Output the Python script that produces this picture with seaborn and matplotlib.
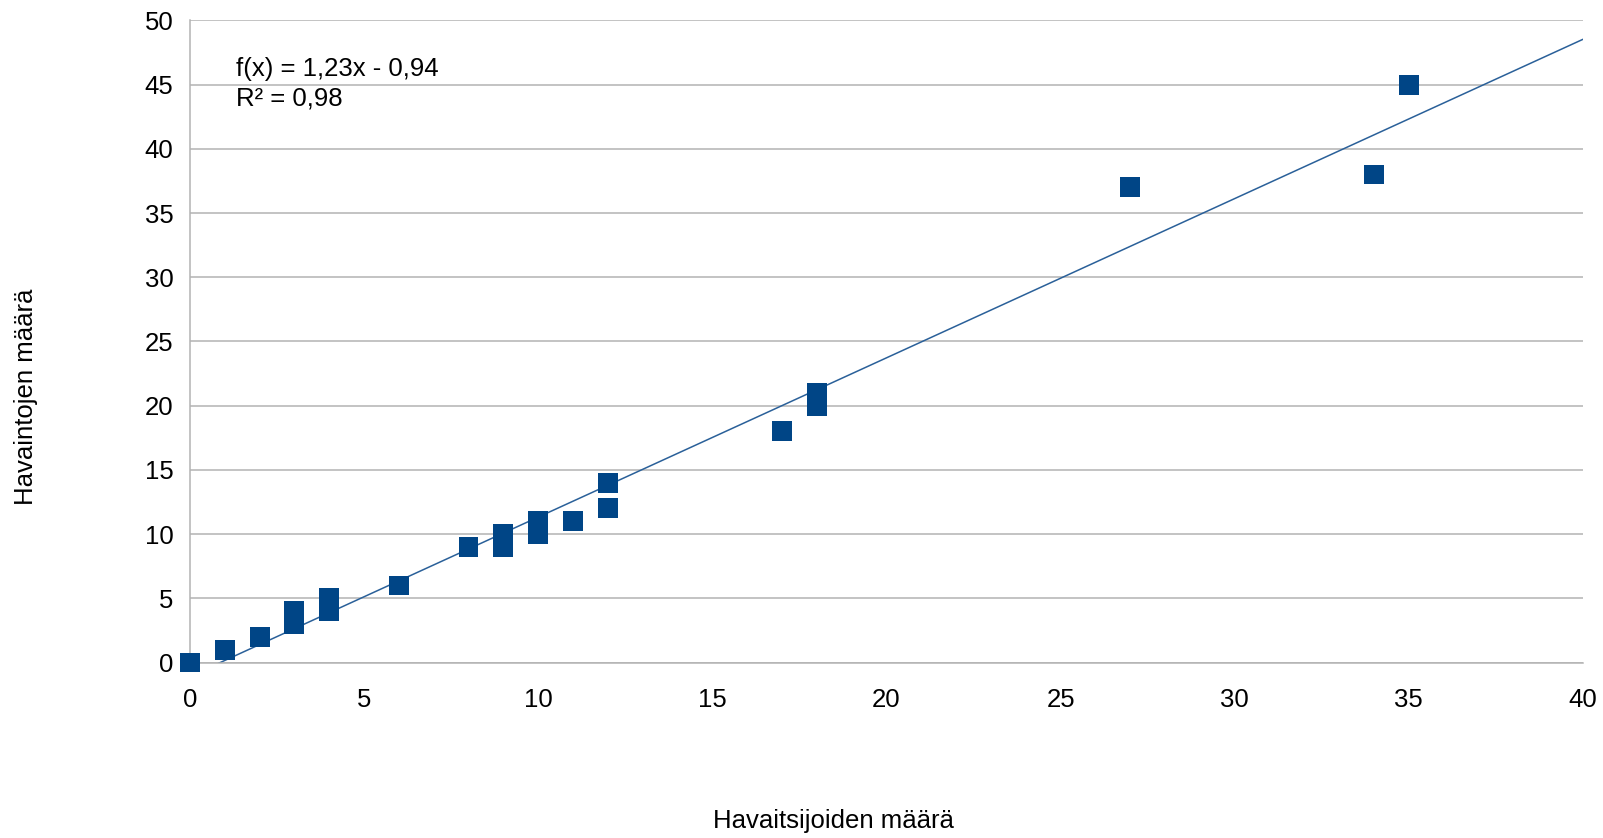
import numpy as np
import pandas as pd
import matplotlib
matplotlib.use("Agg")
import matplotlib.pyplot as plt
import seaborn as sns

# Observers vs observations
havaitsijat = [0, 1, 2, 3, 3, 4, 4, 6, 8, 9, 9, 10, 10, 11, 12, 12, 17, 18, 18, 27, 34, 35]
havainnot = [0, 1, 2, 3, 4, 4, 5, 6, 9, 9, 10, 10, 11, 11, 12, 14, 18, 20, 21, 37, 38, 45]
x_ticks = [0, 5, 10, 15, 20, 25, 30, 35, 40]
y_ticks = [0, 5, 10, 15, 20, 25, 30, 35, 40, 45, 50]

df = pd.DataFrame({"x": havaitsijat, "y": havainnot})

sns.set_style("white")
plt.rcParams['font.family'] = ['Liberation Sans', 'DejaVu Sans']
plt.rcParams['text.color'] = 'black'
plt.rcParams['axes.labelcolor'] = 'black'

fig = plt.figure(figsize=(16.03, 8.38), dpi=100)
ax = fig.add_axes([0.1185, 0.2094, 0.8690, 0.7663])

color = "#004586"
grid_c = "#b3b3b3"
fs = 18.5

ax.set_xlim(0, 40)
ax.set_ylim(0, 50)

# trend line over the whole x range
sns.regplot(data=df, x="x", y="y", ax=ax, ci=None, truncate=False,
            scatter=False, line_kws={"color": "#2a6099", "lw": 1.1, "zorder": 2})
sns.scatterplot(data=df, x="x", y="y", ax=ax, marker="s", s=205, color=color,
                edgecolor="none", linewidth=0, zorder=3, clip_on=False)

ax.set_xlim(0, 40)
ax.set_ylim(0, 50)
ax.set_xticks(x_ticks)
ax.set_yticks(y_ticks)
ax.grid(axis="y", color=grid_c, lw=1.1)
ax.grid(axis="x", visible=False)
ax.set_axisbelow(True)

for side in ["top", "right"]:
    ax.spines[side].set_visible(False)
for side in ["left", "bottom"]:
    ax.spines[side].set_color(grid_c)
    ax.spines[side].set_linewidth(1.1)

ax.tick_params(axis="x", length=7, width=1.1, color=grid_c, pad=11, labelsize=fs, labelcolor="black")
ax.tick_params(axis="y", length=7, width=1.1, color=grid_c, pad=5, labelsize=fs, labelcolor="black")

ax.set_xlabel("Havaitsijoiden määrä", fontsize=fs, va="center")
ax.set_ylabel("Havaintojen määrä", fontsize=fs, va="center")
ax.xaxis.set_label_coords(0.462, -0.247)
ax.yaxis.set_label_coords(-0.118, 0.414)

ax.text(0.033, 0.925, "f(x) = 1,23x - 0,94", transform=ax.transAxes, fontsize=fs, va="center")
ax.text(0.033, 0.878, "R² = 0,98", transform=ax.transAxes, fontsize=fs, va="center")

fig.savefig("out.png", dpi=100)
